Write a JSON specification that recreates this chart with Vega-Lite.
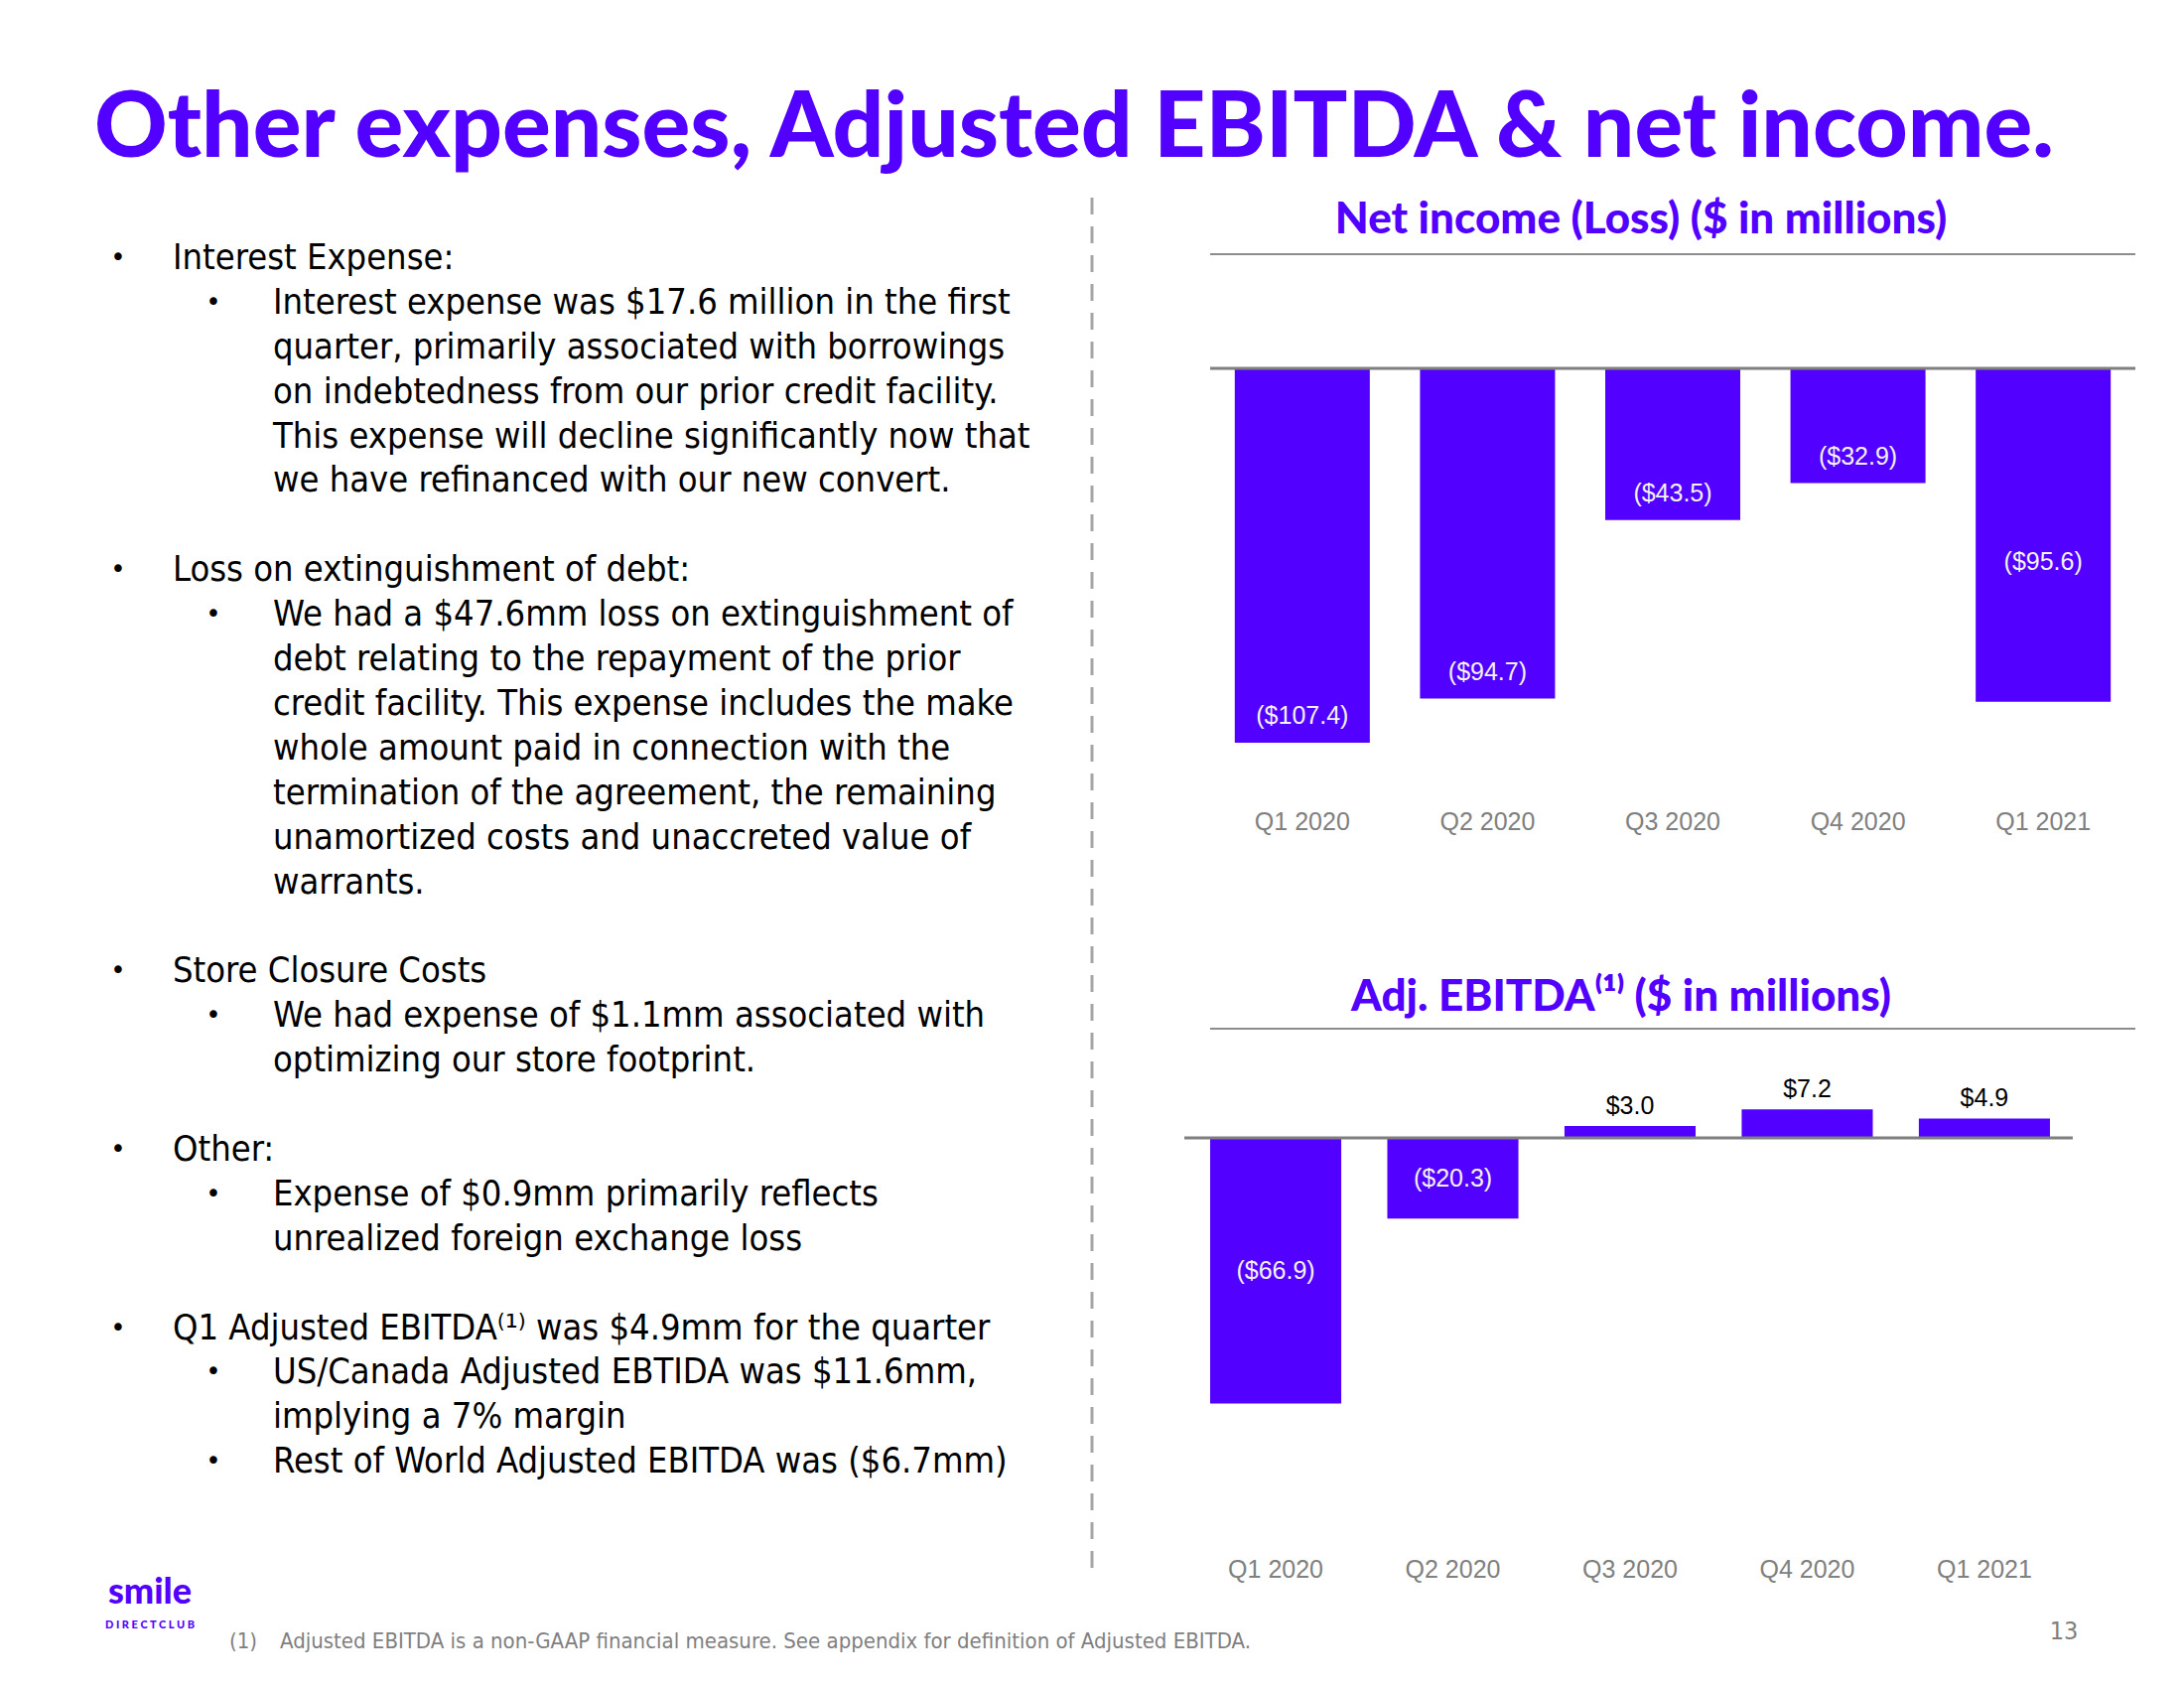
{
  "$schema": "https://vega.github.io/schema/vega-lite/v6.json",
  "background": "white",
  "padding": {"left": 95, "top": 85, "right": 0, "bottom": 0},
  "title": {"text": "Other expenses, Adjusted EBITDA & net income.", "anchor": "start", "frame": "group", "font": "Lato", "fontWeight": 900, "fontSize": 91, "color": "#5200ff", "offset": 20},
  "bounds": "flush",
  "spacing": 119,
  "config": {"view": {"stroke": null}},
  "hconcat": [
    {
      "width": 1005,
      "height": 1292,
      "data": {"values": [
        {"line": 0, "level": 1, "bullet": true, "text": "Interest Expense:"},
        {"line": 1, "level": 2, "bullet": true, "text": "Interest expense was $17.6 million in the first"},
        {"line": 2, "level": 2, "bullet": false, "text": "quarter, primarily associated with borrowings"},
        {"line": 3, "level": 2, "bullet": false, "text": "on indebtedness from our prior credit facility."},
        {"line": 4, "level": 2, "bullet": false, "text": "This expense will decline significantly now that"},
        {"line": 5, "level": 2, "bullet": false, "text": "we have refinanced with our new convert."},
        {"line": 7, "level": 1, "bullet": true, "text": "Loss on extinguishment of debt:"},
        {"line": 8, "level": 2, "bullet": true, "text": "We had a $47.6mm loss on extinguishment of"},
        {"line": 9, "level": 2, "bullet": false, "text": "debt relating to the repayment of the prior"},
        {"line": 10, "level": 2, "bullet": false, "text": "credit facility.  This expense includes the make"},
        {"line": 11, "level": 2, "bullet": false, "text": "whole amount paid in connection with the"},
        {"line": 12, "level": 2, "bullet": false, "text": "termination of the agreement, the remaining"},
        {"line": 13, "level": 2, "bullet": false, "text": "unamortized costs and unaccreted value of"},
        {"line": 14, "level": 2, "bullet": false, "text": "warrants."},
        {"line": 16, "level": 1, "bullet": true, "text": "Store Closure Costs"},
        {"line": 17, "level": 2, "bullet": true, "text": "We had expense of $1.1mm associated with"},
        {"line": 18, "level": 2, "bullet": false, "text": "optimizing our store footprint."},
        {"line": 20, "level": 1, "bullet": true, "text": "Other:"},
        {"line": 21, "level": 2, "bullet": true, "text": "Expense of $0.9mm primarily reflects"},
        {"line": 22, "level": 2, "bullet": false, "text": "unrealized foreign exchange loss"},
        {"line": 24, "level": 1, "bullet": true, "text": "Q1 Adjusted EBITDA⁽¹⁾ was $4.9mm for the quarter"},
        {"line": 25, "level": 2, "bullet": true, "text": "US/Canada Adjusted EBTIDA was $11.6mm,"},
        {"line": 26, "level": 2, "bullet": false, "text": "implying a 7% margin"},
        {"line": 27, "level": 2, "bullet": true, "text": "Rest of World Adjusted EBITDA was ($6.7mm)"}
      ]},
      "layer": [
        {
          "transform": [{"filter": "datum.bullet"}],
          "mark": {"type": "text", "text": "•", "fontSize": 26, "align": "center", "baseline": "middle", "font": "DejaVu Sans", "color": "#000000"},
          "encoding": {
            "x": {"field": "level", "type": "quantitative", "scale": {"domain": [0.75, 11.21875], "nice": false, "zero": false}, "axis": null},
            "y": {"field": "line", "type": "quantitative", "scale": {"domain": [-0.089, 28.686], "nice": false, "zero": false, "reverse": true}, "axis": null}
          }
        },
        {
          "transform": [{"filter": "datum.level == 1"}],
          "mark": {"type": "text", "align": "left", "baseline": "middle", "dx": 55, "fontSize": 36, "font": "DejaVu Sans Condensed, DejaVu Sans", "color": "#000000"},
          "encoding": {
            "x": {"field": "level", "type": "quantitative"},
            "y": {"field": "line", "type": "quantitative"},
            "text": {"field": "text"}
          }
        },
        {
          "transform": [{"filter": "datum.level == 2"}],
          "mark": {"type": "text", "align": "left", "baseline": "middle", "dx": 60, "fontSize": 36, "font": "DejaVu Sans Condensed, DejaVu Sans", "color": "#000000"},
          "encoding": {
            "x": {"field": "level", "type": "quantitative"},
            "y": {"field": "line", "type": "quantitative"},
            "text": {"field": "text"}
          }
        },
        {
          "data": {"values": [{"item": "divider"}]},
          "mark": {"type": "rule", "color": "#a6a6a6", "strokeWidth": 3, "strokeDash": [17, 12]},
          "encoding": {
            "x": {"datum": 11.21875, "type": "quantitative"},
            "y": {"datum": -1.36, "type": "quantitative"},
            "y2": {"datum": 29.58}
          }
        },
        {
          "data": {"values": [{"item": "logo", "text": "smile"}]},
          "mark": {"type": "text", "align": "center", "baseline": "middle", "font": "Lato", "fontWeight": 900, "fontSize": 36, "color": "#5200ff"},
          "encoding": {
            "x": {"datum": 1.333, "type": "quantitative"},
            "y": {"datum": 29.93, "type": "quantitative"},
            "text": {"field": "text"}
          }
        },
        {
          "data": {"values": [{"item": "logo", "text": "D I R E C T  C L U B"}]},
          "mark": {"type": "text", "align": "center", "baseline": "middle", "font": "Lato", "fontWeight": 900, "fontSize": 11, "color": "#5200ff"},
          "encoding": {
            "x": {"datum": 1.333, "type": "quantitative"},
            "y": {"datum": 30.67, "type": "quantitative"},
            "text": {"field": "text"}
          }
        },
        {
          "data": {"values": [{"item": "footnote", "text": "(1)"}]},
          "mark": {"type": "text", "align": "left", "baseline": "middle", "font": "DejaVu Sans Condensed, DejaVu Sans", "fontSize": 22, "color": "#7f7f7f"},
          "encoding": {
            "x": {"datum": 2.1667, "type": "quantitative"},
            "y": {"datum": 31.02, "type": "quantitative"},
            "text": {"field": "text"}
          }
        },
        {
          "data": {"values": [{"item": "footnote", "text": "Adjusted EBITDA is a non-GAAP financial measure. See appendix for definition of Adjusted EBITDA."}]},
          "mark": {"type": "text", "align": "left", "baseline": "middle", "font": "DejaVu Sans Condensed, DejaVu Sans", "fontSize": 22, "color": "#7f7f7f"},
          "encoding": {
            "x": {"datum": 2.698, "type": "quantitative"},
            "y": {"datum": 31.02, "type": "quantitative"},
            "text": {"field": "text"}
          }
        }
      ]
    },
    {
      "vconcat": [
        {
          "width": 932,
          "height": 537,
          "title": {"text": "Net income (Loss) ($ in millions)", "font": "Lato", "fontWeight": 900, "fontSize": 44, "color": "#5200ff", "anchor": "middle", "dx": -32, "offset": 11},
          "data": {"values": [
            {"quarter": "Q1 2020", "value": -107.4, "label": "($107.4)"},
            {"quarter": "Q2 2020", "value": -94.7, "label": "($94.7)"},
            {"quarter": "Q3 2020", "value": -43.5, "label": "($43.5)"},
            {"quarter": "Q4 2020", "value": -32.9, "label": "($32.9)"},
            {"quarter": "Q1 2021", "value": -95.6, "label": "($95.6)"}
          ]},
          "layer": [
            {
              "mark": {"type": "bar", "color": "#5200ff"},
              "encoding": {
                "x": {"field": "quarter", "type": "nominal", "sort": null, "scale": {"paddingInner": 0.271, "paddingOuter": 0.133, "align": 0.5},
                  "axis": {"title": null, "orient": "bottom", "domain": false, "ticks": false, "tickSize": 0, "labelPadding": 22, "labelAngle": 0, "labelFont": "Liberation Sans", "labelFontSize": 25, "labelColor": "#808080"}},
                "y": {"field": "value", "type": "quantitative", "scale": {"domain": [-120.2, 32.8], "nice": false, "zero": false}, "axis": null}
              }
            },
            {
              "transform": [{"filter": "datum.quarter != 'Q1 2021'"}],
              "mark": {"type": "text", "baseline": "middle", "align": "center", "dy": -27, "font": "Liberation Sans", "fontSize": 25, "color": "#f2f2f2"},
              "encoding": {
                "x": {"field": "quarter", "type": "nominal", "sort": null},
                "y": {"field": "value", "type": "quantitative"},
                "text": {"field": "label"}
              }
            },
            {
              "transform": [{"filter": "datum.quarter == 'Q1 2021'"}],
              "mark": {"type": "text", "baseline": "middle", "align": "center", "dy": -141, "font": "Liberation Sans", "fontSize": 25, "color": "#f2f2f2"},
              "encoding": {
                "x": {"field": "quarter", "type": "nominal", "sort": null},
                "y": {"field": "value", "type": "quantitative"},
                "text": {"field": "label"}
              }
            },
            {
              "data": {"values": [{"item": "baseline"}]},
              "mark": {"type": "rule", "color": "#7f7f7f", "strokeWidth": 3},
              "encoding": {"y": {"datum": 0, "type": "quantitative"}}
            },
            {
              "data": {"values": [{"item": "topline"}]},
              "mark": {"type": "rule", "color": "#8c8c8c", "strokeWidth": 2},
              "encoding": {"y": {"datum": 32.8, "type": "quantitative"}}
            }
          ]
        },
        {
          "width": 932,
          "height": 512,
          "title": {"text": "Adj. EBITDA⁽¹⁾ ($ in millions)", "font": "Lato", "fontWeight": 900, "fontSize": 44, "color": "#5200ff", "anchor": "middle", "dx": -52, "offset": 8},
          "data": {"values": [
            {"quarter": "Q1 2020", "value": -66.9, "label": "($66.9)"},
            {"quarter": "Q2 2020", "value": -20.3, "label": "($20.3)"},
            {"quarter": "Q3 2020", "value": 3.0, "label": "$3.0"},
            {"quarter": "Q4 2020", "value": 7.2, "label": "$7.2"},
            {"quarter": "Q1 2021", "value": 4.9, "label": "$4.9"}
          ]},
          "resolve": {"scale": {"y": "independent"}},
          "layer": [
            {
              "mark": {"type": "bar", "color": "#5200ff"},
              "encoding": {
                "x": {"field": "quarter", "type": "nominal", "sort": null, "scale": {"paddingInner": 0.26, "paddingOuter": 0.241, "align": 0},
                  "axis": {"title": null, "orient": "bottom", "domain": false, "ticks": false, "tickSize": 0, "labelPadding": 20, "labelAngle": 0, "labelFont": "Liberation Sans", "labelFontSize": 25, "labelColor": "#808080"}},
                "y": {"field": "value", "type": "quantitative", "scale": {"domain": [-100.5, 27.5], "nice": false, "zero": false}, "axis": null}
              }
            },
            {
              "transform": [{"filter": "datum.value > 0"}],
              "mark": {"type": "text", "baseline": "middle", "align": "center", "dy": -20, "font": "Liberation Sans", "fontSize": 25, "color": "#000000"},
              "encoding": {
                "x": {"field": "quarter", "type": "nominal", "sort": null},
                "y": {"field": "value", "type": "quantitative", "scale": {"domain": [-100.5, 27.5], "nice": false, "zero": false}, "axis": null},
                "text": {"field": "label"}
              }
            },
            {
              "transform": [{"filter": "datum.value < 0"}],
              "mark": {"type": "text", "baseline": "middle", "align": "center", "font": "Liberation Sans", "fontSize": 25, "color": "#f2f2f2"},
              "encoding": {
                "x": {"field": "quarter", "type": "nominal", "sort": null},
                "y": {"field": "value", "type": "quantitative", "scale": {"domain": [-201, 55], "nice": false, "zero": false}, "axis": null},
                "text": {"field": "label"}
              }
            },
            {
              "data": {"values": [{"item": "baseline"}]},
              "mark": {"type": "rule", "color": "#7f7f7f", "strokeWidth": 3, "xOffset": -92, "x2Offset": 89},
              "encoding": {
                "x": {"datum": "Q1 2020", "type": "nominal"},
                "x2": {"datum": "Q1 2021"},
                "y": {"datum": 0, "type": "quantitative", "scale": {"domain": [-100.5, 27.5], "nice": false, "zero": false}, "axis": null}
              }
            },
            {
              "data": {"values": [{"item": "topline"}]},
              "mark": {"type": "rule", "color": "#8c8c8c", "strokeWidth": 2},
              "encoding": {
                "y": {"datum": 27.5, "type": "quantitative", "scale": {"domain": [-100.5, 27.5], "nice": false, "zero": false}, "axis": null}
              }
            },
            {
              "data": {"values": [{"item": "page", "text": "13"}]},
              "mark": {"type": "text", "baseline": "middle", "align": "center", "dx": 80, "font": "DejaVu Sans Condensed, DejaVu Sans", "fontSize": 25, "color": "#7f7f7f"},
              "encoding": {
                "x": {"datum": "Q1 2021", "type": "nominal"},
                "y": {"datum": -124.25, "type": "quantitative", "scale": {"domain": [-100.5, 27.5], "nice": false, "zero": false}, "axis": null},
                "text": {"field": "text"}
              }
            }
          ]
        }
      ],
      "spacing": 243,
      "bounds": "flush"
    }
  ]
}
